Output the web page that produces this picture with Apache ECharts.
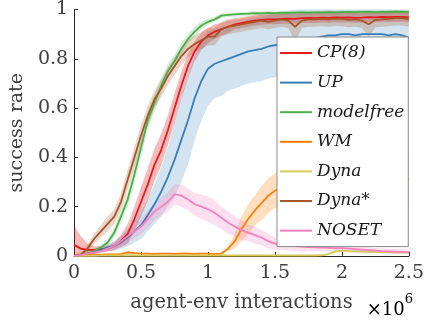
<!DOCTYPE html>
<html><head><meta charset="utf-8">
<script src="https://cdn.jsdelivr.net/npm/echarts@6/dist/echarts.min.js"></script>
<style>html,body{margin:0;padding:0;background:#fff}#c{width:427px;height:323px}</style>
</head><body><div id="c"></div>
<script>
const xs = [0,0.05,0.1,0.15,0.2,0.25,0.3,0.35,0.4,0.45,0.5,0.55,0.6,0.65,0.7,0.75,0.8,0.85,0.9,0.95,1.0,1.05,1.1,1.15,1.2,1.25,1.3,1.35,1.4,1.45,1.5,1.55,1.6,1.65,1.7,1.75,1.8,1.85,1.9,1.95,2.0,2.05,2.1,2.15,2.2,2.25,2.3,2.35,2.4,2.45,2.5];
const xTickLabels = ['0','0.5','1','1.5','2','2.5'];
const yTickLabels = ['0','0.2','0.4','0.6','0.8','1'];
const names = ['CP(8)','UP','modelfree','WM','Dyna','Dyna*','NOSET'];
const colors = ['#e41a1c','#377eb8','#4daf4a','#ff7f00','#d4c95b','#a65628','#f781bf'];
const bandAlpha = [0.3,0.22,0.22,0.25,0.25,0.25,0.25];

const cp8 = [0.045,0.03,0.025,0.025,0.028,0.03,0.04,0.06,0.09,0.15,0.22,0.29,0.37,0.43,0.51,0.60,0.69,0.77,0.83,0.87,0.895,0.91,0.92,0.93,0.94,0.945,0.95,0.955,0.958,0.96,0.96,0.962,0.963,0.962,0.965,0.966,0.965,0.967,0.966,0.968,0.967,0.968,0.966,0.967,0.969,0.968,0.97,0.969,0.97,0.97,0.968];
const cp8Sd = [0.08,0.05,0.025,0.015,0.012,0.012,0.015,0.025,0.04,0.05,0.06,0.065,0.065,0.065,0.06,0.06,0.055,0.05,0.04,0.035,0.03,0.03,0.025,0.025,0.02,0.02,0.02,0.02,0.02,0.02,0.02,0.02,0.02,0.02,0.02,0.02,0.02,0.02,0.02,0.02,0.02,0.02,0.02,0.02,0.02,0.02,0.02,0.02,0.02,0.02,0.02];

const up = [0.0,0.005,0.01,0.015,0.025,0.035,0.04,0.055,0.075,0.10,0.125,0.165,0.21,0.26,0.32,0.39,0.47,0.55,0.64,0.71,0.76,0.78,0.79,0.80,0.81,0.82,0.83,0.835,0.84,0.85,0.855,0.86,0.865,0.87,0.875,0.88,0.885,0.89,0.895,0.895,0.90,0.90,0.895,0.90,0.90,0.90,0.90,0.895,0.90,0.895,0.885];
const upSd = [0.005,0.005,0.008,0.01,0.012,0.015,0.02,0.025,0.035,0.045,0.055,0.065,0.08,0.1,0.12,0.15,0.17,0.18,0.17,0.16,0.15,0.14,0.14,0.13,0.13,0.13,0.13,0.13,0.13,0.13,0.13,0.13,0.13,0.13,0.13,0.13,0.13,0.13,0.13,0.13,0.13,0.13,0.13,0.13,0.13,0.13,0.13,0.13,0.13,0.13,0.13];

const modelfree = [0.0,0.005,0.01,0.02,0.035,0.055,0.095,0.16,0.23,0.33,0.44,0.55,0.62,0.69,0.75,0.79,0.84,0.88,0.91,0.935,0.95,0.96,0.975,0.978,0.98,0.982,0.983,0.985,0.984,0.986,0.985,0.987,0.986,0.987,0.988,0.987,0.988,0.988,0.989,0.988,0.989,0.99,0.989,0.99,0.99,0.989,0.99,0.99,0.991,0.99,0.99];
const modelfreeSd = [0.005,0.005,0.008,0.01,0.012,0.015,0.02,0.025,0.03,0.035,0.035,0.035,0.035,0.03,0.03,0.025,0.025,0.02,0.02,0.015,0.012,0.01,0.01,0.008,0.008,0.008,0.008,0.008,0.008,0.008,0.008,0.008,0.008,0.008,0.008,0.008,0.008,0.008,0.008,0.008,0.008,0.008,0.008,0.008,0.008,0.008,0.008,0.008,0.008,0.008,0.008];

const wm = [0.0,0.003,0.004,0.005,0.005,0.006,0.006,0.008,0.015,0.012,0.01,0.01,0.009,0.01,0.01,0.009,0.01,0.01,0.009,0.01,0.01,0.008,0.01,0.03,0.06,0.11,0.15,0.185,0.215,0.245,0.265,0.275,0.28,0.285,0.29,0.295,0.30,0.30,0.305,0.305,0.31,0.31,0.31,0.315,0.31,0.315,0.32,0.315,0.32,0.32,0.31];
const wmSd = [0.003,0.003,0.003,0.003,0.003,0.003,0.003,0.004,0.005,0.004,0.004,0.004,0.004,0.004,0.004,0.004,0.004,0.004,0.004,0.004,0.004,0.004,0.005,0.01,0.03,0.05,0.06,0.06,0.07,0.07,0.07,0.08,0.08,0.09,0.09,0.1,0.1,0.1,0.1,0.11,0.11,0.11,0.11,0.11,0.12,0.12,0.12,0.12,0.12,0.12,0.12];

const dyna = [0.0,0.001,0.001,0.001,0.002,0.002,0.002,0.002,0.002,0.002,0.002,0.002,0.002,0.002,0.002,0.002,0.002,0.002,0.002,0.002,0.002,0.002,0.002,0.002,0.002,0.002,0.002,0.002,0.002,0.002,0.002,0.002,0.002,0.002,0.002,0.002,0.002,0.003,0.008,0.018,0.022,0.02,0.019,0.018,0.017,0.017,0.016,0.016,0.015,0.015,0.015];
const dynaSd = [0.003,0.003,0.003,0.003,0.003,0.003,0.003,0.003,0.003,0.003,0.003,0.003,0.003,0.003,0.003,0.003,0.003,0.003,0.003,0.003,0.003,0.003,0.003,0.003,0.003,0.003,0.003,0.003,0.003,0.003,0.003,0.003,0.003,0.003,0.003,0.003,0.003,0.003,0.004,0.005,0.005,0.005,0.005,0.005,0.005,0.005,0.005,0.005,0.005,0.005,0.005];

const dynaStar = [0.0,0.005,0.03,0.07,0.10,0.13,0.16,0.22,0.31,0.40,0.49,0.57,0.635,0.68,0.73,0.77,0.81,0.84,0.86,0.875,0.89,0.89,0.92,0.93,0.935,0.94,0.945,0.95,0.955,0.95,0.955,0.96,0.955,0.93,0.955,0.96,0.96,0.962,0.96,0.963,0.962,0.958,0.96,0.955,0.94,0.958,0.96,0.962,0.965,0.965,0.96];
const dynaStarSd = [0.005,0.01,0.015,0.02,0.025,0.03,0.03,0.035,0.04,0.04,0.04,0.04,0.035,0.035,0.035,0.035,0.035,0.035,0.035,0.035,0.035,0.035,0.03,0.03,0.03,0.03,0.03,0.03,0.03,0.03,0.03,0.03,0.03,0.06,0.03,0.03,0.03,0.03,0.03,0.03,0.03,0.03,0.03,0.03,0.05,0.03,0.03,0.03,0.03,0.03,0.03];

const noset = [0.0,0.005,0.01,0.015,0.02,0.03,0.04,0.06,0.08,0.10,0.12,0.15,0.18,0.20,0.22,0.25,0.245,0.23,0.21,0.20,0.19,0.175,0.155,0.135,0.12,0.105,0.095,0.085,0.075,0.06,0.05,0.045,0.042,0.04,0.038,0.036,0.035,0.034,0.033,0.032,0.032,0.03,0.028,0.026,0.024,0.022,0.02,0.019,0.018,0.017,0.016];
const nosetSd = [0.005,0.005,0.008,0.01,0.01,0.012,0.015,0.02,0.025,0.03,0.03,0.035,0.035,0.035,0.04,0.04,0.045,0.045,0.045,0.05,0.05,0.05,0.045,0.045,0.04,0.04,0.035,0.035,0.03,0.03,0.025,0.02,0.02,0.02,0.02,0.015,0.015,0.015,0.015,0.015,0.015,0.012,0.012,0.012,0.01,0.01,0.01,0.01,0.01,0.01,0.01];

const means = [cp8, up, modelfree, wm, dyna, dynaStar, noset];
const sds = [cp8Sd, upSd, modelfreeSd, wmSd, dynaSd, dynaStarSd, nosetSd];

function rgba(hex, a){
  const n = parseInt(hex.slice(1),16);
  return 'rgba(' + ((n>>16)&255) + ',' + ((n>>8)&255) + ',' + (n&255) + ',' + a + ')';
}

const FONT = 'DejaVu Serif';
const series = [];
names.forEach((nm, i) => {
  const m = means[i], s = sds[i];
  series.push({
    name: nm + ' band', type: 'custom', silent: true, z: 1, clip: true,
    data: [[0, 0]],
    renderItem: (params, api) => {
      const pts = [];
      for (let k = 0; k < xs.length; k++) pts.push(api.coord([xs[k], m[k] + s[k]]));
      for (let k = xs.length - 1; k >= 0; k--) pts.push(api.coord([xs[k], m[k] - s[k]]));
      return {type: 'polygon', shape: {points: pts}, style: {fill: rgba(colors[i], bandAlpha[i]), stroke: null}};
    }
  });
});
names.forEach((nm, i) => {
  series.push({
    name: nm, type: 'line', data: xs.map((x, k) => [x, means[i][k]]),
    symbol: 'none', lineStyle: {color: colors[i], width: 1.8}, itemStyle: {color: colors[i]}, z: 3
  });
});

const chart = echarts.init(document.getElementById('c'), null, {renderer: 'canvas'});
chart.setOption({
  animation: false,
  backgroundColor: '#fff',
  grid: {left: 69, right: 14, top: 8, bottom: 67},
  xAxis: {
    type: 'value', min: 0, max: 2.5, interval: 0.5,
    axisLine: {lineStyle: {color: '#262626', width: 1}},
    axisTick: {inside: true, length: 4, lineStyle: {color: '#262626'}},
    splitLine: {show: false},
    axisLabel: {formatter: (v) => xTickLabels[Math.round(v / 0.5)], fontFamily: FONT, fontSize: 19, color: '#404040', margin: 8},
    name: 'agent-env interactions', nameLocation: 'middle', nameGap: 37,
    nameTextStyle: {fontFamily: FONT, fontSize: 19.5, color: '#404040'}
  },
  yAxis: {
    type: 'value', min: 0, max: 1, interval: 0.2,
    axisLine: {show: true, lineStyle: {color: '#262626', width: 1}},
    axisTick: {show: true, inside: true, length: 4, lineStyle: {color: '#262626'}},
    splitLine: {show: false},
    axisLabel: {formatter: (v) => yTickLabels[Math.round(v / 0.2)], fontFamily: FONT, fontSize: 19, color: '#404040', margin: 6},
    name: 'success rate', nameLocation: 'middle', nameGap: 41, nameRotate: 90,
    nameTextStyle: {fontFamily: FONT, fontSize: 19, color: '#404040'}
  },
  legend: {
    orient: 'vertical', left: 277, top: 37, padding: [4, 4, 4, 3], itemGap: 5.6,
    itemWidth: 32, itemHeight: 2, icon: 'rect', selectedMode: false,
    backgroundColor: '#fff', borderColor: '#888', borderWidth: 1,
    textStyle: {fontFamily: FONT, fontStyle: 'italic', fontSize: 17, lineHeight: 24, color: '#1a1a1a'},
    data: names
  },
  graphic: [{
    type: 'text', right: 14, top: 293,
    style: {
      text: '{a|×10}{b|6}',
      rich: {
        a: {fontFamily: FONT, fontSize: 18, color: '#404040', verticalAlign: 'bottom', lineHeight: 26},
        b: {fontFamily: FONT, fontSize: 13, color: '#404040', verticalAlign: 'top', lineHeight: 26, padding: [0,0,10,0]}
      }
    }
  }],
  series: series
});
</script></body></html>
